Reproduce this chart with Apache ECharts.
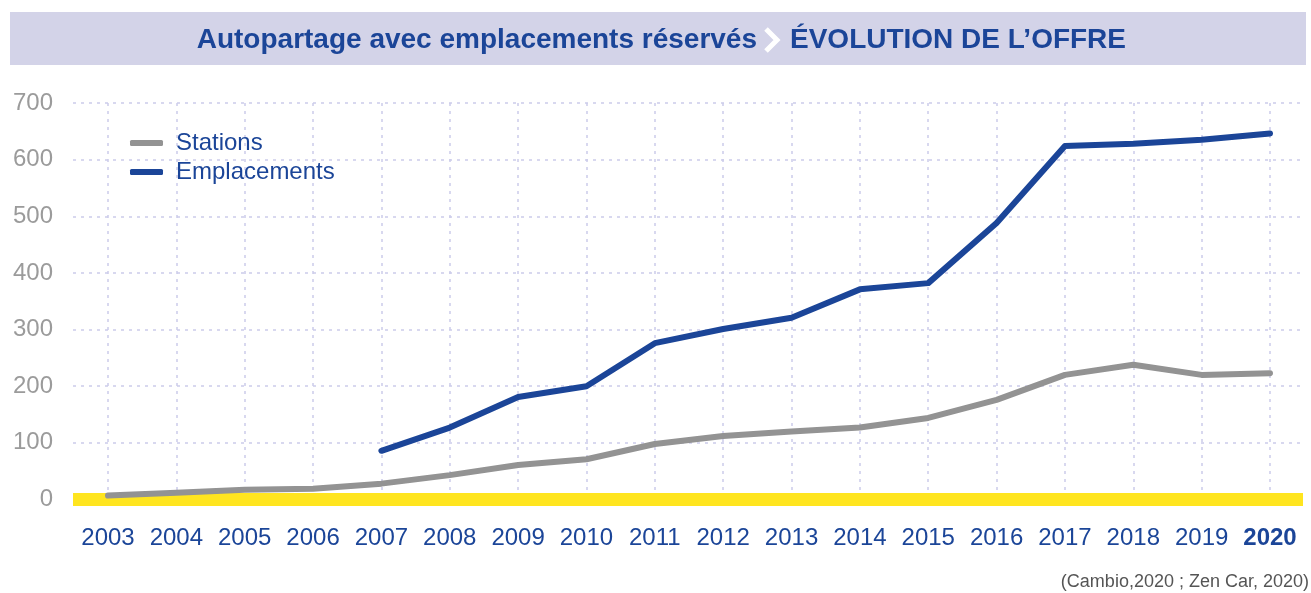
<!DOCTYPE html>
<html>
<head>
<meta charset="utf-8">
<script src="https://cdn.jsdelivr.net/npm/echarts@6/dist/echarts.min.js"></script>
<style>
html,body{margin:0;padding:0;background:#fff;}
#chart{width:1311px;height:593px;}
</style>
</head>
<body>
<div id="chart"></div>
<script>
const years = ['2003','2004','2005','2006','2007','2008','2009','2010','2011','2012','2013','2014','2015','2016','2017','2018','2019','2020'];
const stations = [7, 12, 17, 19, 28, 43, 61, 71, 98, 112, 120, 127, 144, 176, 220, 238, 220, 223];
const emplacements = [null, null, null, null, 86, 127, 181, 200, 276, 301, 321, 371, 382, 488, 624, 628, 635, 646];
const yTicks = [0, 100, 200, 300, 400, 500, 600, 700];
const titleLeft = 'Autopartage avec emplacements réservés';
const titleRight = 'ÉVOLUTION DE L’OFFRE';
const sourceText = '(Cambio,2020 ; Zen Car, 2020)';

const FONT = '"Liberation Sans", Arial, sans-serif';
const BLUE = '#1b4598';
const GRAY = '#939393';
const GRID_COLOR = '#cbcbea';

const chart = echarts.init(document.getElementById('chart'), null, {renderer: 'canvas'});
const option = {
  backgroundColor: '#ffffff',
  animation: false,
  textStyle: {fontFamily: FONT},
  graphic: [
    {type: 'rect', left: 10, top: 12, shape: {width: 1296, height: 53}, style: {fill: '#d3d3e8'}, z: 0},
    {type: 'text', x: 757, y: 40, style: {text: titleLeft, fill: BLUE, font: 'bold 28px ' + FONT, textAlign: 'right', textVerticalAlign: 'middle'}, z: 2},
    {type: 'polyline', shape: {points: [[766, 29], [777, 40], [766, 51]]}, style: {stroke: '#ffffff', lineWidth: 5, fill: null, lineJoin: 'miter'}, z: 2},
    {type: 'text', x: 790, y: 40, style: {text: titleRight, fill: BLUE, font: 'bold 28px ' + FONT, textAlign: 'left', textVerticalAlign: 'middle'}, z: 2},
    {type: 'text', x: 1309, y: 582, style: {text: sourceText, fill: '#555555', font: '18px ' + FONT, textAlign: 'right', textVerticalAlign: 'middle'}, z: 2}
  ],
  legend: {
    left: 125, top: 126, orient: 'vertical',
    icon: 'roundRect', itemWidth: 33, itemHeight: 6, itemGap: 5,
    textStyle: {color: BLUE, fontSize: 24, fontFamily: FONT, lineHeight: 24, padding: [0, 0, 0, 8]},
    data: ['Stations', 'Emplacements']
  },
  grid: [
    {left: 73, right: 8, top: 103, bottom: 93.5},
    {left: 108, right: 41, top: 103, bottom: 93.5}
  ],
  xAxis: [
    {gridIndex: 0, type: 'category', data: years, boundaryGap: true, z: 1,
     axisLine: {show: true, lineStyle: {color: '#ffe51f', width: 13, cap: 'butt'}},
     axisTick: {show: false}, axisLabel: {show: false}, splitLine: {show: false}},
    {gridIndex: 1, type: 'category', data: years, boundaryGap: false, z: 0,
     axisLine: {show: false}, axisTick: {show: false},
     splitLine: {show: true, lineStyle: {color: GRID_COLOR, width: 1.5, type: [3, 5]}},
     axisLabel: {show: true, margin: 27, color: BLUE, fontSize: 24, fontFamily: FONT,
       interval: 0,
       formatter: function (v) { return v === years[years.length - 1] ? '{b|' + v + '}' : v; },
       rich: {b: {fontWeight: 'bold', color: BLUE, fontSize: 24, fontFamily: FONT}}}}
  ],
  yAxis: [
    {gridIndex: 0, type: 'value', min: yTicks[0], max: yTicks[yTicks.length - 1], interval: 100,
     axisLine: {show: false}, axisTick: {show: false},
     axisLabel: {color: '#9b9b9b', fontSize: 24, fontFamily: FONT, margin: 20, padding: [0, 0, 12, 0]},
     splitLine: {show: true, lineStyle: {color: GRID_COLOR, width: 1.5, type: [3, 5]}}},
    {gridIndex: 1, type: 'value', min: yTicks[0], max: yTicks[yTicks.length - 1], interval: 100,
     show: false, splitLine: {show: false}}
  ],
  series: [
    {name: 'Stations', type: 'line', xAxisIndex: 1, yAxisIndex: 1, data: stations,
     symbol: 'none', z: 3, color: GRAY,
     lineStyle: {color: GRAY, width: 6, cap: 'round', join: 'round'}},
    {name: 'Emplacements', type: 'line', xAxisIndex: 1, yAxisIndex: 1, data: emplacements,
     symbol: 'none', z: 4, color: BLUE, connectNulls: false,
     lineStyle: {color: BLUE, width: 6, cap: 'round', join: 'round'}}
  ]
};
chart.setOption(option);
</script>
</body>
</html>
